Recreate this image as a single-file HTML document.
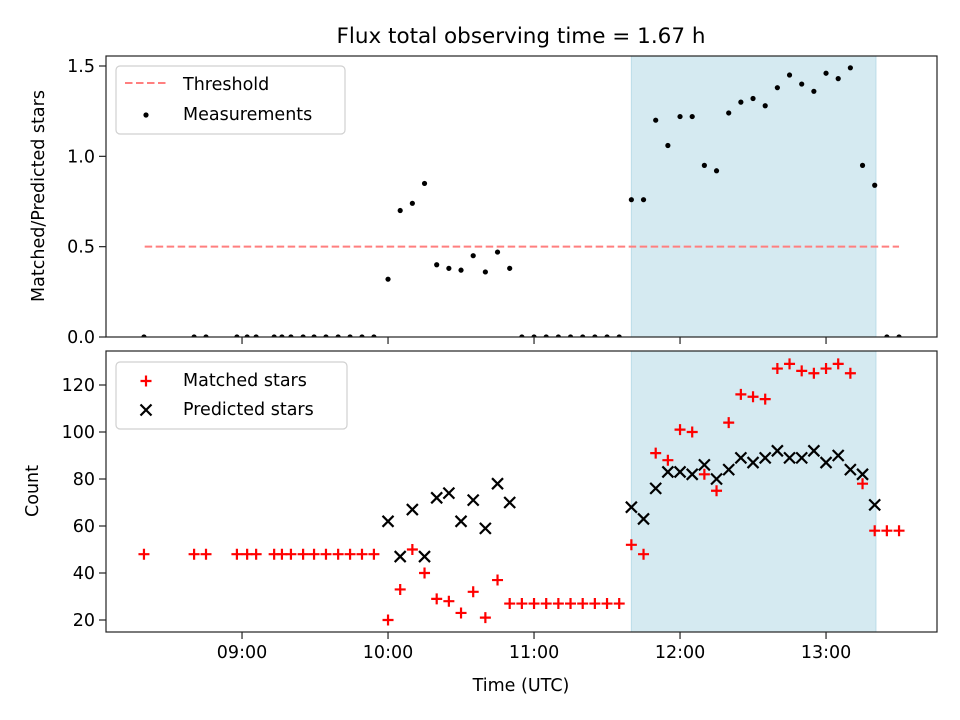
<!DOCTYPE html>
<html><head><meta charset="utf-8"><style>
html,body{margin:0;padding:0;background:#fff}
svg{display:block;font-family:"DejaVu Sans","Liberation Sans",sans-serif}
</style></head><body>
<svg id="chart" width="960" height="720" viewBox="0 0 960 720"></svg>
<script>
// ---- data ----
const timesMin = [499.7,520.3,525.2,537.9,542.1,545.8,553.2,556.4,560.1,565.1,569.6,574.5,579.5,584.4,589.3,594.2,
600,605,610,615,620,625,630,635,640,645,650,655,660,665,670,675,680,685,690,695,700,705,710,715,720,725,730,735,740,745,750,755,760,765,770,775,780,785,790,795,800,805,810];
const ratioVals = [0,0,0,0,0,0,0,0,0,0,0,0,0,0,0,0,
0.32,0.70,0.74,0.85,0.40,0.38,0.37,0.45,0.36,0.47,0.38,0,0,0,0,0,0,0,0,0,0.76,0.76,1.20,1.06,1.22,1.22,0.95,0.92,1.24,1.30,1.32,1.28,1.38,1.45,1.40,1.36,1.46,1.43,1.49,0.95,0.84,0,0];
const matchedVals = [48,48,48,48,48,48,48,48,48,48,48,48,48,48,48,48,
20,33,50,40,29,28,23,32,21,37,27,27,27,27,27,27,27,27,27,27,52,48,91,88,101,100,82,75,104,116,115,114,127,129,126,125,127,129,125,78,58,58,58];
const predictedVals = [null,null,null,null,null,null,null,null,null,null,null,null,null,null,null,null,
62,47,67,47,72,74,62,71,59,78,70,null,null,null,null,null,null,null,null,null,68,63,76,83,83,82,86,80,84,89,87,89,92,89,89,92,87,90,84,82,69,null,null];
const threshold = [0.5];
const thresholdSpan = [500, 810];
const shadeSpan = [700, 800.5];
const xTicks = [540,600,660,720,780];
const xTickLabels = ["09:00","10:00","11:00","12:00","13:00"];
const topTicks = [0,0.5,1.0,1.5];
const topTickLabels = ["0.0","0.5","1.0","1.5"];
const botTicks = [20,40,60,80,100,120];
const botTickLabels = ["20","40","60","80","100","120"];

// ---- layout ----
const L=106,R=937, T1=56,B1=337, T2=351,B2=632;
const xMin=484.1, xMax=825.6;
const x = m => L + (m-xMin)/(xMax-xMin)*(R-L);
const yTop = v => 337 - v*180.67;
const yBot = v => 620 - (v-20)*2.35;
const NS="http://www.w3.org/2000/svg";
const svg=document.getElementById('chart');
function mk(tag, attrs, parent){const e=document.createElementNS(NS,tag);for(const k in attrs)e.setAttribute(k,attrs[k]);(parent||svg).appendChild(e);return e;}

// clip paths
const defs=mk('defs',{});
const c1=mk('clipPath',{id:'c1'},defs); mk('rect',{x:L,y:T1,width:R-L,height:B1-T1},c1);
const c2=mk('clipPath',{id:'c2'},defs); mk('rect',{x:L,y:T2,width:R-L,height:B2-T2},c2);

// title
const title=mk('text',{x:521,y:43,'text-anchor':'middle','font-size':'21.5',fill:'#000'});
title.textContent='Flux total observing time = 1.67 h';



// ---- top panel ----
const g1=mk('g',{'clip-path':'url(#c1)'});


const sh1=mk('rect',{x:x(shadeSpan[0]),y:T1,width:x(shadeSpan[1])-x(shadeSpan[0]),height:B1-T1,fill:'#d5eaf1',stroke:'#bcdde8','stroke-width':1},g1);


const th=mk('line',{x1:x(thresholdSpan[0]),x2:x(thresholdSpan[1]),y1:yTop(threshold[0]),y2:yTop(threshold[0]),stroke:'#ff7f7f','stroke-width':2,'stroke-dasharray':'7.5,3.5'},g1);


for(let i=0;i<timesMin.length;i++){
  const d=mk('circle',{cx:x(timesMin[i]),cy:yTop(ratioVals[i]),r:2.6,fill:'#000'},g1);
  
  
}

// ---- bottom panel ----
const g2=mk('g',{'clip-path':'url(#c2)'});


const sh2=mk('rect',{x:x(shadeSpan[0]),y:T2,width:x(shadeSpan[1])-x(shadeSpan[0]),height:B2-T2,fill:'#d5eaf1',stroke:'#bcdde8','stroke-width':1},g2);


function plus(cx,cy,parent,s){return mk('path',{d:`M${cx-s},${cy}H${cx+s}M${cx},${cy-s}V${cy+s}`,stroke:'#ff0000','stroke-width':2.2,fill:'none'},parent);}
function cross(cx,cy,parent,s){return mk('path',{d:`M${cx-s},${cy-s}L${cx+s},${cy+s}M${cx-s},${cy+s}L${cx+s},${cy-s}`,stroke:'#000','stroke-width':2.2,fill:'none'},parent);}
for(let i=0;i<timesMin.length;i++){
  if(predictedVals[i]!==null){
    const p=cross(x(timesMin[i]),yBot(predictedVals[i]),g2,5.5);
    
    
  }
}
for(let i=0;i<timesMin.length;i++){
  const p=plus(x(timesMin[i]),yBot(matchedVals[i]),g2,5.5);
  
  
}

// ---- axes ----
function frame(top,bot,name){
  const r=mk('rect',{x:L,y:top,width:R-L,height:bot-top,fill:'none',stroke:'#222','stroke-width':1.2});
  
  
}
frame(T1,B1,'ratio-axes-frame');
frame(T2,B2,'count-axes-frame');
xTicks.forEach((t,i)=>{
  const tx=x(t);
  const a=mk('line',{x1:tx,x2:tx,y1:B1,y2:B1+7,stroke:'#222','stroke-width':1.2});
  
  
  const b=mk('line',{x1:tx,x2:tx,y1:B2,y2:B2+7,stroke:'#222','stroke-width':1.2});
  
  
  const l=mk('text',{x:tx,y:658,'text-anchor':'middle','font-size':'17.5',fill:'#000'});
  l.textContent=xTickLabels[i];
  
  
});
topTicks.forEach((t,i)=>{
  const ty=yTop(t);
  const a=mk('line',{x1:L-7,x2:L,y1:ty,y2:ty,stroke:'#222','stroke-width':1.2});
  
  
  const l=mk('text',{x:L-11,y:ty+6,'text-anchor':'end','font-size':'17.5',fill:'#000'});
  l.textContent=topTickLabels[i];
  
  
});
botTicks.forEach((t,i)=>{
  const ty=yBot(t);
  const a=mk('line',{x1:L-7,x2:L,y1:ty,y2:ty,stroke:'#222','stroke-width':1.2});
  
  
  const l=mk('text',{x:L-11,y:ty+6,'text-anchor':'end','font-size':'17.5',fill:'#000'});
  l.textContent=botTickLabels[i];
  
  
});
const xl=mk('text',{x:521,y:691,'text-anchor':'middle','font-size':'17.5',fill:'#000'});
xl.textContent='Time (UTC)';


const yl1=mk('text',{x:0,y:0,'text-anchor':'middle','font-size':'17.5',fill:'#000',transform:'translate(44,196) rotate(-90)'});
yl1.textContent='Matched/Predicted stars';


const yl2=mk('text',{x:0,y:0,'text-anchor':'middle','font-size':'17.5',fill:'#000',transform:'translate(38,491) rotate(-90)'});
yl2.textContent='Count';



// ---- legends ----
const lg1=mk('g',{});


mk('rect',{x:116,y:66,width:229,height:68,rx:4,fill:'#fff','fill-opacity':0.8,stroke:'#d0d0d0','stroke-width':1.2},lg1);
const le1=mk('line',{x1:125,x2:166,y1:83,y2:83,stroke:'#ff7f7f','stroke-width':2,'stroke-dasharray':'7.5,3.5'},lg1);


const lt1=mk('text',{x:183,y:90,'font-size':'17.5',fill:'#000'},lg1);
lt1.textContent='Threshold';


const le2=mk('circle',{cx:146,cy:115,r:2.6,fill:'#000'},lg1);


const lt2=mk('text',{x:183,y:120,'font-size':'17.5',fill:'#000'},lg1);
lt2.textContent='Measurements';



const lg2=mk('g',{});


mk('rect',{x:116,y:362,width:231,height:67,rx:4,fill:'#fff','fill-opacity':0.8,stroke:'#d0d0d0','stroke-width':1.2},lg2);
const m1=plus(146,381,lg2,5.5);


const mt1=mk('text',{x:183,y:386,'font-size':'17.5',fill:'#000'},lg2);
mt1.textContent='Matched stars';


const m2=cross(146,410,lg2,5.5);


const mt2=mk('text',{x:183,y:415,'font-size':'17.5',fill:'#000'},lg2);
mt2.textContent='Predicted stars';


</script>
</body></html>
